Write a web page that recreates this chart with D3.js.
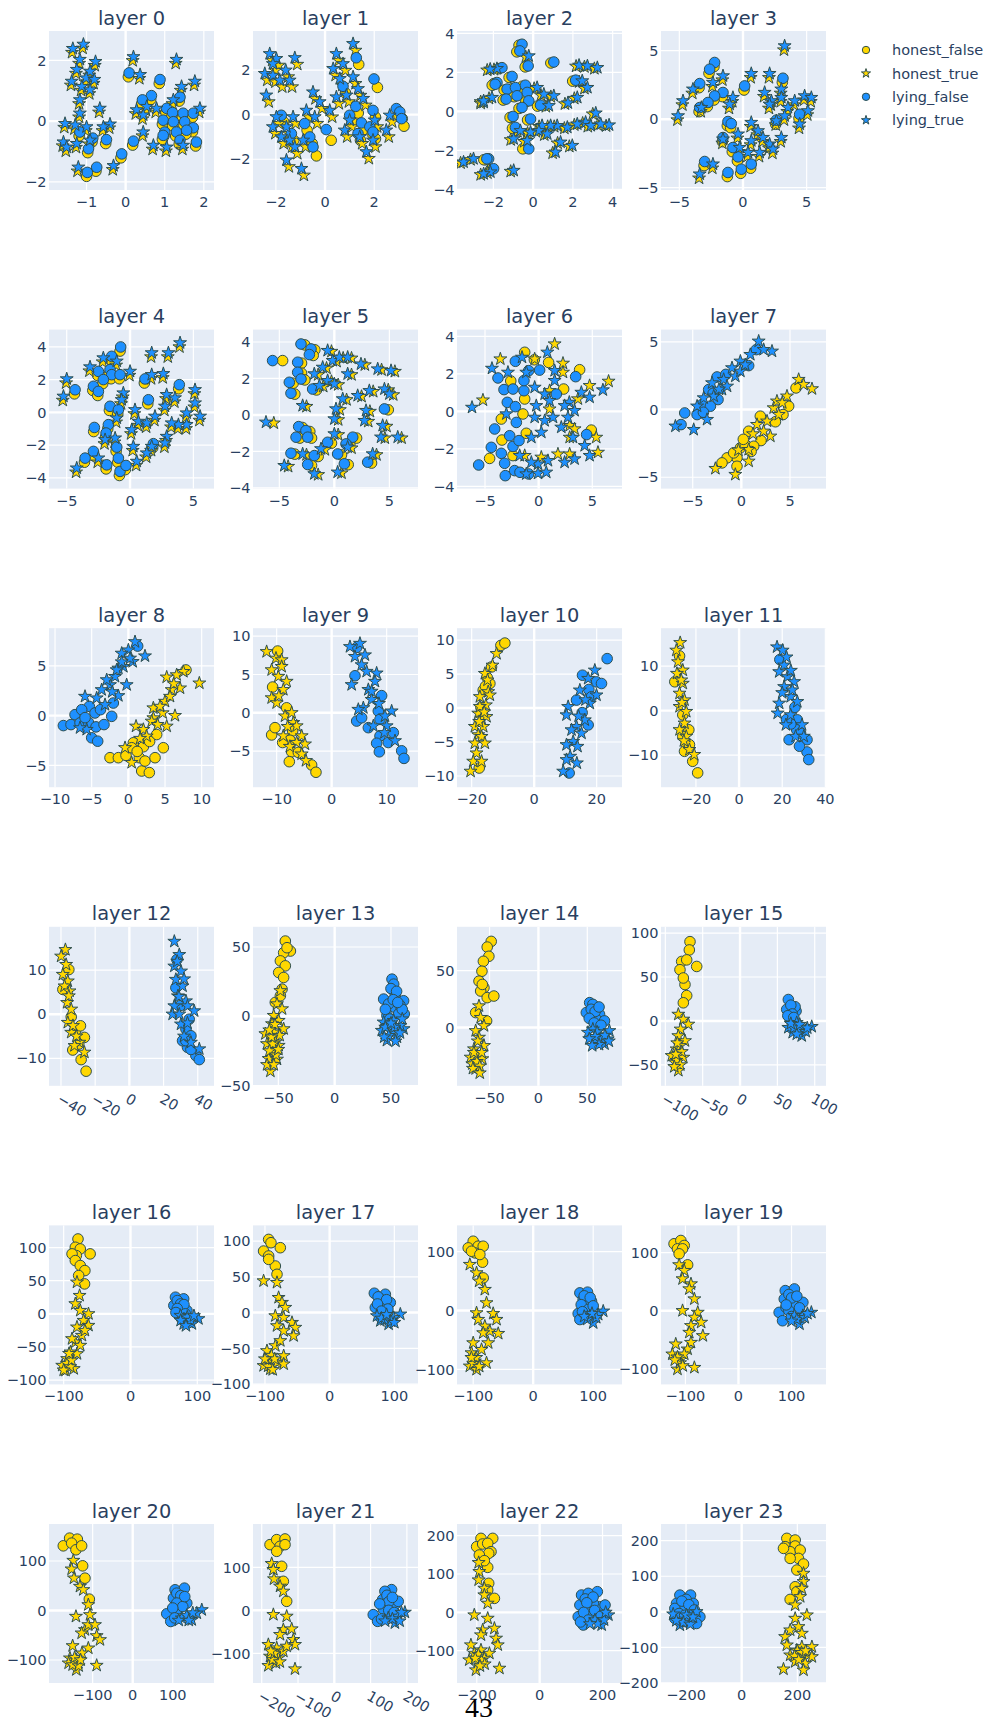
<!DOCTYPE html>
<html>
<head>
<meta charset="utf-8">
<script src="https://cdn.jsdelivr.net/npm/d3@7"></script>
<style>
  body { margin: 0; background: #fff; }
  svg text.sans { font-family: "DejaVu Sans", sans-serif; }
</style>
</head>
<body>
<svg id="chart" width="989" height="1717"></svg>
<script>
// ---- 2-D projections of activations, one panel per layer ----
// hf = honest_false, ht = honest_true, lf = lying_false, lt = lying_true

const hf0 = [[0.07,1.46],[0.86,1.24],[0.64,0.71],[0.41,0.57],[1.37,0.66],[1.03,0.29],[1.18,0.15],[1.45,0.13],[1.71,0.13],[0.94,-0.10],[1.20,-0.15],[1.49,-0.15],[1.71,-0.35],[0.98,-0.49],[1.28,-0.49],[1.54,-0.43],[0.94,-0.60],[1.37,-0.76],[1.79,-0.82],[0.18,-0.79],[-0.12,-1.21],[-0.86,-0.69],[-0.97,-1.04],[-0.51,-0.74],[-0.76,-1.65],[-1.00,-1.82],[-1.19,-0.49]];
const ht0 = [[-1.37,2.26],[-1.10,2.40],[-1.19,1.90],[-0.79,1.83],[-1.27,1.57],[-0.93,1.51],[-1.03,1.29],[-0.82,1.24],[-1.40,1.18],[-1.14,1.01],[-0.93,0.90],[-1.19,0.57],[-0.68,0.29],[-1.19,0.13],[-1.57,-0.21],[-1.31,-0.26],[-1.02,-0.32],[-0.42,-0.23],[-0.59,-0.32],[-1.61,-0.82],[-1.27,-0.87],[-0.93,-0.76],[-1.53,-0.99],[-1.23,-1.65],[-0.33,-1.60],[0.18,1.99],[0.35,1.40],[1.28,1.90],[1.75,1.18],[1.41,1.01],[0.26,0.24],[0.52,0.35],[0.77,0.29],[0.43,-0.49],[0.69,-0.93],[1.03,-0.99],[1.45,-0.93],[1.88,0.29],[0.43,0.07],[1.20,0.57]];
const lf0 = [[0.09,1.59],[0.88,1.37],[0.66,0.84],[0.43,0.70],[1.39,0.79],[1.05,0.42],[1.20,0.28],[1.47,0.26],[1.73,0.26],[0.96,0.03],[1.22,-0.02],[1.51,-0.02],[1.73,-0.22],[1.00,-0.36],[1.30,-0.36],[1.56,-0.30],[0.96,-0.47],[1.39,-0.63],[1.81,-0.69],[0.20,-0.66],[-0.10,-1.08],[-0.84,-0.56],[-0.95,-0.91],[-0.49,-0.61],[-0.74,-1.52],[-0.98,-1.69],[-1.17,-0.36]];
const lt0 = [[-1.35,2.39],[-1.08,2.53],[-1.17,2.03],[-0.77,1.96],[-1.25,1.70],[-0.91,1.64],[-1.01,1.42],[-0.80,1.37],[-1.38,1.31],[-1.12,1.14],[-0.91,1.03],[-1.17,0.70],[-0.66,0.42],[-1.17,0.26],[-1.55,-0.08],[-1.29,-0.13],[-1.00,-0.19],[-0.40,-0.10],[-0.57,-0.19],[-1.59,-0.69],[-1.25,-0.74],[-0.91,-0.63],[-1.51,-0.86],[-1.21,-1.52],[-0.31,-1.47],[0.20,2.12],[0.37,1.53],[1.30,2.03],[1.77,1.31],[1.43,1.14],[0.28,0.37],[0.54,0.48],[0.79,0.42],[0.45,-0.36],[0.71,-0.80],[1.05,-0.86],[1.47,-0.80],[1.90,0.42],[0.45,0.20],[1.22,0.70]];

const hf1 = [[1.37,2.25],[2.13,1.22],[0.83,0.97],[1.35,0.07],[2.05,-0.11],[3.00,-0.03],[3.14,-0.18],[3.21,-0.52],[1.58,-0.67],[1.92,-0.85],[1.44,-1.15],[2.05,-1.08],[1.10,-0.33],[-0.73,-0.70],[-0.52,-1.30],[-0.35,-1.85],[0.25,-1.15],[-1.27,-1.15],[-1.68,-0.33]];
const ht1 = [[-2.15,2.43],[-1.88,2.21],[-2.02,1.98],[-1.13,2.25],[-1.50,1.69],[-2.35,1.54],[-2.02,1.46],[-1.74,1.24],[-2.29,0.57],[-1.34,1.24],[-0.39,0.71],[-0.12,0.27],[0.29,-0.11],[-0.32,-0.40],[-1.88,-0.40],[-2.02,-0.85],[-1.47,-0.85],[-1.68,-1.30],[-1.34,-1.45],[-0.79,-1.45],[-1.13,-1.75],[-1.47,-2.34],[-0.86,-2.72],[0.56,2.43],[0.43,1.76],[0.83,1.98],[1.24,2.88],[0.70,1.31],[1.24,1.39],[0.97,0.57],[1.44,0.86],[1.65,0.42],[1.10,-0.55],[1.51,-1.30],[2.05,-1.45],[1.78,-1.97],[2.73,-0.33],[2.59,-1.00],[0.56,0.49],[2.12,-0.55],[0.90,-1.00],[-1.20,-0.40],[-0.66,-0.11]];
const lf1 = [[1.27,2.55],[1.99,1.60],[0.73,1.27],[1.25,0.37],[1.95,0.19],[2.90,0.27],[3.04,0.12],[3.11,-0.18],[1.48,-0.37],[1.82,-0.55],[1.34,-0.85],[1.95,-0.78],[1.00,-0.03],[-0.83,-0.40],[-0.62,-1.00],[-0.49,-1.45],[0.05,-0.67],[-1.37,-0.85],[-1.78,-0.03]];
const lt1 = [[-2.25,2.73],[-1.98,2.51],[-2.12,2.28],[-1.23,2.55],[-1.60,1.99],[-2.45,1.84],[-2.12,1.76],[-1.84,1.54],[-2.39,0.87],[-1.44,1.54],[-0.49,1.01],[-0.22,0.57],[0.19,0.19],[-0.42,-0.10],[-1.98,-0.10],[-2.12,-0.55],[-1.57,-0.55],[-1.78,-1.00],[-1.44,-1.15],[-0.89,-1.15],[-1.23,-1.45],[-1.57,-2.04],[-0.96,-2.42],[0.46,2.73],[0.33,2.06],[0.73,2.28],[1.14,3.18],[0.60,1.61],[1.14,1.69],[0.87,0.87],[1.34,1.16],[1.55,0.72],[1.00,-0.25],[1.41,-1.00],[1.95,-1.15],[1.68,-1.67],[2.63,-0.03],[2.49,-0.70],[0.46,0.79],[2.02,-0.25],[0.80,-0.70],[-1.30,-0.10],[-0.76,0.19]];

const hf2 = [[-0.71,3.39],[-0.82,3.05],[-0.40,2.28],[0.89,2.48],[-1.72,2.19],[-1.21,1.74],[-1.97,1.43],[-1.46,1.09],[-1.04,1.17],[-0.54,1.29],[-0.45,0.92],[-1.51,0.58],[-0.96,0.75],[-0.37,0.49],[0.22,0.27],[-0.71,0.15],[-1.16,-0.31],[-0.28,-0.44],[-1.04,-0.87],[-0.52,-1.92],[-2.39,-2.48],[-2.14,-2.99],[1.99,1.55],[-2.48,-2.48],[-2.06,1.34]];
const ht2 = [[-1.97,2.14],[-0.37,2.79],[2.16,2.31],[2.58,2.28],[3.08,2.19],[2.32,1.51],[2.58,1.17],[2.07,0.66],[1.60,0.38],[0.89,0.75],[0.39,0.83],[0.05,1.17],[-2.22,0.66],[-2.64,0.41],[0.64,0.24],[3.00,-0.14],[2.49,-0.61],[3.67,-0.75],[3.25,-0.70],[2.75,-0.78],[2.07,-0.70],[1.57,-0.87],[1.06,-0.78],[0.73,-0.78],[0.30,-0.78],[0.14,-1.04],[0.56,-1.21],[-0.28,-1.12],[-0.79,-1.04],[-1.13,-1.46],[-0.45,-1.55],[0.98,-2.14],[1.82,-1.80],[1.23,-1.63],[-1.13,-3.08],[-2.30,-3.16],[-3.65,-2.65],[-3.15,-2.48],[-2.64,-3.25],[-2.31,2.11],[-2.64,0.49]];
const lf2 = [[-0.56,3.44],[-0.67,3.10],[-0.25,2.33],[1.04,2.53],[-1.57,2.24],[-1.06,1.79],[-1.82,1.48],[-1.31,1.14],[-0.89,1.22],[-0.39,1.34],[-0.30,0.97],[-1.36,0.63],[-0.81,0.80],[-0.22,0.54],[0.37,0.32],[-0.56,0.20],[-1.01,-0.26],[-0.13,-0.39],[-0.89,-0.82],[-0.22,-1.92],[-2.24,-2.43],[-1.99,-2.94],[2.14,1.60],[-2.33,-2.43],[-1.91,1.39]];
const lt2 = [[-1.82,2.19],[-0.22,2.84],[2.31,2.36],[2.73,2.33],[3.23,2.24],[2.47,1.56],[2.73,1.22],[2.22,0.71],[1.75,0.43],[1.04,0.80],[0.54,0.88],[0.20,1.22],[-2.07,0.71],[-2.49,0.46],[0.79,0.29],[3.15,-0.09],[2.64,-0.56],[3.82,-0.70],[3.40,-0.65],[2.90,-0.73],[2.22,-0.65],[1.72,-0.82],[1.21,-0.73],[0.88,-0.73],[0.45,-0.73],[0.29,-0.99],[0.71,-1.16],[-0.13,-1.07],[-0.64,-0.99],[-0.98,-1.41],[-0.30,-1.50],[1.13,-2.09],[1.97,-1.75],[1.38,-1.58],[-0.98,-3.03],[-2.15,-3.11],[-3.50,-2.60],[-3.00,-2.43],[-2.49,-3.20],[-2.16,2.16],[-2.49,0.54]];

const hf3 = [[-2.28,3.84],[-2.67,3.35],[-3.45,2.30],[-1.62,1.65],[-2.28,1.40],[-2.80,0.92],[-3.45,0.55],[0.08,2.13],[3.09,2.69],[-1.23,-0.47],[-0.97,-0.62],[-1.62,-1.64],[-0.84,-2.37],[-0.44,-3.05],[0.60,-3.58],[-0.18,-3.95],[-1.23,-4.19],[-3.06,-3.39],[2.57,-0.37],[4.40,0.06]];
const ht3 = [[3.22,5.05],[0.60,3.03],[2.04,3.03],[-1.62,2.86],[-2.41,2.38],[-3.98,1.89],[-4.76,1.04],[-5.15,-0.06],[-3.32,0.55],[-0.84,1.28],[-1.10,0.79],[1.65,1.65],[2.96,1.89],[2.18,1.04],[2.96,1.28],[4.01,1.04],[4.79,1.40],[5.32,1.28],[5.05,0.31],[4.40,-0.66],[3.48,0.55],[2.57,-0.42],[3.22,-0.06],[2.04,0.79],[2.96,-1.64],[0.60,-0.54],[1.13,-1.15],[0.60,-1.88],[1.52,-1.64],[2.04,-2.12],[1.26,-2.73],[0.34,-2.73],[-0.31,-2.37],[-0.44,-1.39],[-2.41,-3.58],[-3.45,-4.31],[-1.62,-1.76],[2.31,-2.49]];
const lf3 = [[-2.23,4.14],[-2.62,3.65],[-3.40,2.60],[-1.57,1.95],[-2.23,1.70],[-2.75,1.22],[-3.40,0.85],[0.13,2.43],[3.14,2.99],[-1.18,-0.17],[-0.92,-0.32],[-1.57,-1.34],[-0.79,-2.07],[-0.39,-2.75],[0.65,-3.28],[-0.13,-3.65],[-1.18,-3.89],[-3.01,-3.09],[2.62,-0.07],[4.45,0.36]];
const lt3 = [[3.27,5.35],[0.65,3.33],[2.09,3.33],[-1.57,3.16],[-2.36,2.68],[-3.93,2.19],[-4.71,1.34],[-5.10,0.24],[-3.27,0.85],[-0.79,1.58],[-1.05,1.09],[1.70,1.95],[3.01,2.19],[2.23,1.34],[3.01,1.58],[4.06,1.34],[4.84,1.70],[5.37,1.58],[5.10,0.61],[4.45,-0.36],[3.53,0.85],[2.62,-0.12],[3.27,0.24],[2.09,1.09],[3.01,-1.34],[0.65,-0.24],[1.18,-0.85],[0.65,-1.58],[1.57,-1.34],[2.09,-1.82],[1.31,-2.43],[0.39,-2.43],[-0.26,-2.07],[-0.39,-1.09],[-2.36,-3.28],[-3.40,-4.01],[-1.57,-1.46],[2.36,-2.19]];

const hf4 = [[-0.79,3.74],[-1.50,3.17],[-1.63,2.36],[-2.55,2.25],[-1.50,2.05],[-2.16,1.75],[-2.94,1.34],[-2.55,1.03],[-0.84,2.05],[-4.39,1.13],[1.13,1.79],[1.40,0.52],[3.84,1.44],[-1.63,0.12],[-0.97,-0.09],[-2.87,-1.17],[-1.76,-1.00],[-1.94,-1.51],[-1.10,-2.37],[-0.97,-3.04],[-2.94,-2.63],[-3.60,-3.04],[-1.89,-3.45],[-0.84,-3.85],[-0.37,-3.49],[1.79,-2.16]];
const ht4 = [[3.90,3.99],[1.66,3.38],[2.98,3.38],[-3.21,2.52],[-2.16,3.07],[-1.10,2.87],[-0.05,2.25],[1.66,2.05],[2.58,2.11],[-5.05,1.79],[-5.31,0.73],[-0.58,0.93],[-0.71,0.52],[0.34,-0.09],[-1.10,-0.60],[0.61,-0.80],[0.08,-1.31],[1.27,-0.90],[1.92,-0.49],[2.71,0.12],[2.84,0.83],[3.50,0.63],[5.08,1.13],[5.08,0.32],[4.42,-0.29],[5.48,-0.49],[4.42,-1.00],[3.77,-1.00],[3.24,-0.90],[2.84,-1.72],[2.71,-2.12],[1.66,-2.33],[1.27,-2.73],[0.48,-3.24],[0.21,-2.33],[-1.23,-1.82],[-2.02,-1.92],[-4.26,-3.65],[-2.55,-3.04]];
const lf4 = [[-0.74,3.99],[-1.45,3.42],[-1.58,2.61],[-2.50,2.50],[-1.45,2.30],[-2.11,2.00],[-2.89,1.59],[-2.50,1.28],[-0.79,2.30],[-4.34,1.38],[1.18,2.04],[1.45,0.77],[3.89,1.69],[-1.58,0.37],[-0.92,0.16],[-2.82,-0.92],[-1.71,-0.75],[-1.89,-1.26],[-1.05,-2.12],[-0.92,-2.79],[-2.89,-2.38],[-3.55,-2.79],[-1.84,-3.20],[-0.79,-3.60],[-0.32,-3.24],[1.84,-1.91]];
const lt4 = [[3.95,4.24],[1.71,3.63],[3.03,3.63],[-3.16,2.77],[-2.11,3.32],[-1.05,3.12],[0,2.50],[1.71,2.30],[2.63,2.36],[-5.00,2.04],[-5.26,0.98],[-0.53,1.18],[-0.66,0.77],[0.39,0.16],[-1.05,-0.35],[0.66,-0.55],[0.13,-1.06],[1.32,-0.65],[1.97,-0.24],[2.76,0.37],[2.89,1.08],[3.55,0.88],[5.13,1.38],[5.13,0.57],[4.47,-0.04],[5.53,-0.24],[4.47,-0.75],[3.82,-0.75],[3.29,-0.65],[2.89,-1.47],[2.76,-1.87],[1.71,-2.08],[1.32,-2.48],[0.53,-2.99],[0.26,-2.08],[-1.18,-1.57],[-1.97,-1.67],[-4.21,-3.40],[-2.50,-2.79]];

const hf5 = [[-2.68,3.84],[-1.77,3.57],[-1.92,3.26],[-4.70,2.98],[-2.98,2.84],[-2.98,2.29],[-3.74,1.74],[-3.59,1.14],[-2.68,1.92],[-1.62,1.37],[4.90,0.28],[-2.89,-0.69],[-2.23,-0.91],[-3.13,-1.27],[-2.07,-1.27],[-3.59,-2.15],[-1.47,-2.28],[-2.07,-2.77],[-0.26,-1.55],[1.26,-2.73],[2.02,-1.27],[3.38,-2.64],[1.41,-1.64],[0.65,-2.19]];
const ht5 = [[-0.26,3.48],[0.20,2.93],[0.80,3.11],[1.56,3.11],[2.77,2.74],[4.29,2.47],[5.50,2.38],[-0.71,2.56],[-1.47,2.20],[-0.26,1.83],[-1.01,1.56],[0.35,1.65],[1.56,2.20],[3.53,1.28],[2.47,1.01],[4.90,1.37],[5.35,1.10],[1.11,0.83],[0.50,0.28],[0.35,-0.27],[3.23,0.19],[3.08,-0.36],[4.74,-0.63],[4.59,-1.27],[6.11,-1.27],[-5.50,-0.45],[-4.20,-2.83],[-1.47,-3.28],[0.65,-3.19],[3.83,-2.19],[-2.53,0.46],[-0.86,-1.91],[0.35,-1.09],[1.56,-1.82],[-2.53,-2.19]];
const lf5 = [[-3.03,3.89],[-2.12,3.62],[-2.27,3.31],[-5.61,2.98],[-3.33,2.89],[-3.33,2.34],[-4.09,1.79],[-3.94,1.19],[-3.03,1.97],[-1.97,1.42],[4.55,0.33],[-3.24,-0.64],[-2.58,-0.86],[-3.48,-1.22],[-2.42,-1.22],[-3.94,-2.10],[-1.82,-2.23],[-2.42,-2.72],[-0.61,-1.50],[0.91,-2.68],[1.67,-1.22],[3.03,-2.59],[1.06,-1.59],[0.30,-2.14]];
const lt5 = [[-0.61,3.53],[-0.15,2.98],[0.45,3.16],[1.21,3.16],[2.42,2.79],[3.94,2.52],[5.15,2.43],[-1.06,2.61],[-1.82,2.25],[-0.61,1.88],[-1.36,1.61],[0,1.70],[1.21,2.25],[3.18,1.33],[2.12,1.06],[4.55,1.42],[5.00,1.15],[0.76,0.88],[0.15,0.33],[0,-0.22],[2.88,0.24],[2.73,-0.31],[4.39,-0.58],[4.24,-1.22],[5.76,-1.22],[-6.21,-0.40],[-4.55,-2.78],[-1.82,-3.23],[0.30,-3.14],[3.48,-2.14],[-2.88,0.51],[-1.21,-1.86],[0,-1.04],[1.21,-1.77],[-2.88,-2.14]];

const hf6 = [[-1.30,3.15],[3.82,2.22],[-1.30,0.66],[-3.48,-0.41],[-1.46,-0.14],[-3.42,-1.53],[-4.57,-2.51],[-1.15,-1.17],[0.93,2.61],[2.33,1.19],[4.91,-1.00],[-2.39,-2.36],[-2.60,1.62],[-0.40,2.75]];
const ht6 = [[-5.19,0.60],[-3.57,2.79],[1.49,3.59],[2.27,2.56],[2.27,2.08],[-0.37,2.79],[1.02,0.12],[2.89,-0.76],[4.75,1.37],[6.52,1.60],[5.37,-1.39],[5.53,-2.19],[1.80,-2.28],[2.89,-2.28],[0.25,-2.45],[-1.30,-2.36],[3.66,0.66],[3.35,-0.94],[2.89,-1.39],[1.02,1.10]];
const lf6 = [[-3.79,1.78],[-2.17,2.67],[-3.23,1.16],[-2.39,1.19],[-2.92,0.48],[-2.17,0.25],[-1.37,1.10],[-1.37,1.64],[-0.93,2.17],[0.09,2.20],[-4.10,-0.94],[-2.08,-0.59],[-2.70,-1.30],[-4.41,-1.92],[-3.48,-2.24],[-2.39,-1.87],[-1.83,-1.56],[-3.17,-2.77],[-5.59,-2.86],[-3.11,-3.43],[-2.24,-3.16],[-1.74,-3.25],[-0.93,-3.34],[3.45,1.85],[4.47,-1.24],[1.65,0.92]];
const lt6 = [[-6.21,0.21],[-4.35,2.29],[-2.86,2.08],[-1.55,2.88],[0.81,3.15],[-1.15,2.08],[-0.37,1.28],[0.56,0.92],[-0.22,0.30],[1.02,0.57],[-0.37,-0.32],[0.56,-0.50],[1.34,-0.32],[2.11,-0.85],[2.73,-0.32],[3.35,0.04],[2.86,0.48],[3.98,1.01],[4.75,0.75],[5.99,1.14],[2.42,0.30],[3.20,-1.39],[4.29,-1.83],[4.75,-2.36],[3.35,-2.54],[2.42,-2.72],[0.87,-2.63],[-0.06,-2.81],[-0.68,-2.72],[-1.15,-3.34],[-0.06,-3.31],[0.71,-3.25],[1.49,2.17],[1.49,1.64],[-3.01,-0.14],[-1.77,-2.36],[-0.68,-1.39],[0.25,-1.12]];

const hf7 = [[5.62,1.60],[4.86,0.25],[4.28,-0.37],[1.95,-0.49],[0.75,-1.60],[2.02,-2.29],[-0.10,-2.83],[0.41,-2.59],[1.27,-2.71],[-0.45,-3.57],[-1.47,-3.57],[-1.99,-3.94],[-0.45,-4.19],[-0.79,-3.20],[0.2,-2.2],[1.0,-3.1],[3.5,-0.9]];
const ht7 = [[5.89,2.22],[7.26,1.53],[6.40,1.85],[4.69,0.99],[3.32,0.12],[3.66,0.62],[2.64,-0.86],[2.98,-1.97],[1.61,-1.11],[0.75,-2.96],[0.75,-3.82],[-0.62,-4.80],[-2.67,-4.36],[3.84,-0.37],[2.29,-1.60],[4.2,0.5],[1.2,-1.8],[-0.3,-3.0]];
const lf7 = [[-5.82,-0.25],[-6.20,-1.11],[-4.55,-0.37],[-4.04,0.37],[-3.36,1.48],[-2.50,2.41],[-2.40,0.74],[-3.18,0.25],[0.75,3.25],[1.54,4.43],[-3.9,-0.2],[-2.9,1.2],[-1.6,2.6]];
const lt7 = [[-6.78,-1.23],[-4.90,-1.48],[-3.53,-0.74],[-4.55,0.25],[-2.84,0.99],[-1.99,1.48],[-1.82,2.22],[-0.96,3.08],[-0.10,3.57],[0.92,4.06],[1.78,5.05],[3.15,4.31],[2.29,4.43],[-0.62,2.46],[-1.47,1.72],[-3.01,1.97],[-3.87,0.86],[-0.10,2.83],[0.4,3.3],[-2.3,1.5]];

const hf8 = [[7.86,4.6],[-2.5,-4.23],[-1.36,-4.23],[-0.32,-4.0],[0.68,-2.73],[1.5,-4.23],[1.82,-5.57],[2.86,-5.73],[2.27,-4.57],[3.64,-4.23],[4.77,-3.23],[2.05,-3.13],[0.45,-3.23],[3.86,-1.9],[1.2,-3.6],[2.9,-2.6]];
const ht8 = [[9.68,3.27],[7.50,4.43],[6.59,4.1],[5.23,3.87],[7.05,2.77],[5.91,2.6],[5.0,1.43],[6.36,0],[4.68,0.27],[3.41,-0.23],[3.18,-0.57],[5.23,-1.07],[1.05,-1.07],[2.05,-1.4],[2.5,-2.07],[-0.45,-3.23],[0.45,-4.73],[3.41,0.77],[4.32,0.93],[5.68,1.93],[6.2,3.2],[4.0,-0.9],[1.6,-2.3]];
const lf8 = [[1.27,7.0],[-8.86,-1.0],[-7.82,-0.9],[-7.27,0.1],[-6.59,-0.73],[-5.45,-0.67],[-5.32,0.93],[-4.55,0.27],[-4.41,-1.13],[-3.32,-0.9],[-2.27,-0.07],[-5.0,-2.23],[-4.18,-2.57],[-6.36,0.6],[-2.05,1.27],[-3.8,0.6],[-5.9,-0.2]];
const lt8 = [[0.91,7.43],[0,6.6],[-0.91,6.27],[0.59,5.43],[2.27,6.0],[-0.23,3.1],[-1.36,2.0],[-1.82,3.93],[-2.5,3.1],[-3.64,2.6],[-4.32,1.77],[-5.91,1.93],[-0.68,4.93],[-1.36,4.77],[-3.18,1.1],[-2.95,3.6],[-5.68,-1.4],[-6.59,-1.23],[-1.59,4.6],[0.23,5.77],[-2.2,2.4],[-0.9,5.4]];

const hf9 = [[-9.82,8.06],[-10.73,3.36],[-8.18,0.65],[-10.91,-2.89],[-10.30,-1.94],[-7.09,-2.37],[-7.58,-3.58],[-7.27,-5.09],[-7.70,-6.38],[-3.64,-6.81],[-2.85,-7.76],[-6.06,-5.17],[-8.91,-3.88]];
const ht9 = [[-11.82,7.97],[-10.12,7.11],[-10.91,5.60],[-9.09,6.90],[-9.70,4.74],[-8.18,4.09],[-8.79,3.02],[-10.91,1.94],[-10.0,1.29],[-8.48,-0.43],[-7.27,0],[-6.97,-1.29],[-5.45,-3.02],[-4.85,-4.09],[-5.45,-5.39],[-4.67,-6.25],[-8.79,-3.02],[-6.36,-3.88],[-9.09,6.03],[-6.36,-1.72],[-9.6,2.2],[-8.0,-1.8],[-7.6,-4.4]];
const lf9 = [[4.55,8.53],[4.24,4.83],[9.09,2.24],[4.55,-1.08],[5.45,-0.65],[8.48,0.22],[8.79,-0.86],[8.79,-3.02],[10.30,-3.88],[8.18,-3.97],[8.67,-5.09],[12.73,-4.96],[13.15,-5.95],[11.21,-2.59],[6.67,-1.94]];
const lt9 = [[3.33,8.62],[5.15,9.05],[4.24,7.33],[6.06,7.54],[5.45,6.25],[3.64,3.66],[8.18,5.17],[7.88,4.09],[6.67,3.02],[7.27,1.72],[5.76,0.65],[4.85,0.43],[10.91,0.22],[9.70,-0.43],[6.36,5.39],[7.58,-1.72],[10.0,-1.72],[11.52,-3.66],[7.27,2.80],[8.6,1.2],[9.6,-2.6]];

const hf10 = [[-10.66,9.22],[-9.38,9.56],[-15.03,4.49],[-17.06,0.10],[-17.59,-8.83],[-13.65,6.05],[-16.31,2.63],[-14.18,3.61],[-15.6,3.2]];
const ht10 = [[-12.05,8.0],[-13.33,6.29],[-15.78,5.07],[-14.71,2.39],[-17.38,1.66],[-14.18,1.90],[-15.46,0.44],[-17.91,-0.78],[-16.84,-1.51],[-15.25,-1.27],[-18.98,-2.73],[-16.31,-2.73],[-17.91,-3.95],[-16.84,-4.20],[-18.98,-5.17],[-15.78,-5.17],[-18.44,-6.63],[-19.51,-7.85],[-16.84,-7.85],[-20.36,-9.32],[-14.93,4.10],[-17.38,0.20],[-16.0,-0.6],[-17.6,-2.0]];
const lf10 = [[23.35,7.27],[15.46,4.83],[17.48,2.73],[19.94,3.85],[21.54,3.61],[15.35,-0.68],[17.27,-2.49],[11.19,-9.56],[18.34,1.66],[13.54,1.17]];
const lt10 = [[19.40,5.56],[17.27,4.34],[17.80,0.68],[14.61,2.63],[10.87,0.20],[10.34,-1.02],[13.54,-2.73],[16.20,-1.76],[15.14,-3.71],[12.47,-4.93],[13.86,-5.66],[10.34,-5.41],[11.51,-7.12],[13.65,-8.10],[9.28,-9.32],[10.34,-7.61],[19.94,1.90],[11.94,-3.22],[16.4,1.2],[14.2,-1.2]];

const hf11 = [[-27.6,12.27],[-29.8,6.47],[-26.1,-0.97],[-23.3,-4.31],[-26.1,-5.80],[-24.5,-7.43],[-25.3,-9.14],[-21.5,-11.38],[-19.2,-13.98],[-23.0,-7.66]];
const ht11 = [[-27.3,15.24],[-29.1,13.53],[-28.3,10.93],[-26.1,9.07],[-28.8,8.33],[-26.1,6.10],[-27.6,3.87],[-25.3,2.38],[-27.6,0.89],[-25.3,-2.83],[-27.6,-4.31],[-24.5,-5.80],[-23.0,-8.77],[-20.8,-9.89],[-26.8,6.84],[-24.5,-0.22],[-26.5,1.8],[-25.6,-6.8]];
const lf11 = [[18.9,11.45],[25.9,0.74],[27.0,-2.08],[26.7,-4.31],[23.2,-6.54],[31.5,-6.54],[31.5,-9.29],[32.3,-11.0],[28.5,-5.06],[24.0,-3.0],[28.0,-8.0],[22.0,-2.0]];
const lt11 = [[17.6,14.28],[20.2,13.53],[20.9,10.19],[18.6,8.70],[22.4,7.58],[25.5,6.47],[20.9,5.35],[23.9,3.12],[18.6,1.64],[17.9,-0.59],[21.7,-3.20],[23.9,-0.97],[29.2,-3.20],[26.2,-5.80],[30.0,-5.80],[24.7,4.61],[22.0,12.0],[24.0,9.0],[27.0,2.0],[20.0,4.0]];

const hf12 = [[-35.4,10.15],[-38.9,5.64],[-34.0,-0.60],[-31.5,-3.76],[-28.6,-2.63],[-26.3,-5.26],[-33.1,-8.12],[-28.2,-10.30],[-25.3,-12.93],[-29.6,-6.77]];
const ht12 = [[-37.4,14.66],[-39.9,13.16],[-37.0,11.28],[-38.9,9.02],[-36.0,7.52],[-37.9,6.39],[-35.0,5.26],[-36.4,2.63],[-34.0,1.13],[-36.0,-1.88],[-34.0,-4.14],[-29.2,-6.39],[-32.1,-7.14],[-26.3,-8.65],[-35.4,4.14],[-33.0,-2.6],[-31.0,-5.0]];
const lf12 = [[27.8,12.41],[27.2,6.02],[35.0,-1.13],[33.1,-3.38],[36.0,-4.89],[34.0,-7.52],[38.9,-9.40],[40.9,-10.30],[31.1,-6.02],[30.0,2.0],[33.0,-6.0],[36.0,-8.0]];
const lt12 = [[26.3,16.54],[29.2,13.53],[26.3,10.90],[30.2,9.77],[27.2,7.89],[31.1,6.39],[28.4,4.14],[33.1,3.01],[26.3,1.88],[34.0,1.88],[25.3,0],[37.9,0.75],[30.2,-2.26],[29.2,0],[40.9,-7.89],[36.0,-6.39],[28.0,12.0],[32.0,8.0],[29.0,4.0],[34.0,-2.0],[32.0,-5.0]];

const hf13 = [[-43.8,54.3],[-39.3,47.1],[-45.3,45.9],[-48.2,40.0],[-43.8,36.4],[-49.7,31.6],[-45.3,28.0],[-46.7,19.6],[-52.7,10.0],[-48.2,14.8],[-42.3,49.5]];
const ht13 = [[-48.2,18.4],[-51.2,8.9],[-46.7,5.3],[-54.1,0.5],[-49.7,-3.1],[-55.6,-5.5],[-45.3,-9.1],[-54.1,-11.5],[-60.1,-19.9],[-49.7,-21.1],[-55.6,-25.8],[-58.6,-30.6],[-51.2,-31.1],[-57.1,-39.7],[-52.7,-18.7],[-61.5,-12.7],[-48.8,-13.9],[-55,-20],[-58,-25],[-52,-28],[-60,-35],[-54,-35],[-50,-24],[-56,-15],[-53,-6],[-58,-10]];
const lf13 = [[50.9,26.8],[52.4,23.2],[43.5,12.4],[53.8,16.0],[61.2,11.2],[53.3,6.5],[61.8,1.7],[47.9,8.9],[56.8,1.7],[46.4,0.5],[50,20],[55,18],[58,8],[45,5],[52,12],[60,5],[49,-2],[56,10]];
const lt13 = [[43.5,-4.3],[52.4,-3.1],[61.2,-9.1],[41.9,-10.3],[50.9,-11.5],[46.4,-17.5],[55.3,-15.1],[58.3,-6.7],[47.9,-6.7],[45,-8],[53,-8],[58,-12],[48,-14],[60,-2],[54,-18],[44,-15],[50,-5]];

const hf14 = [[-48.3,75.6],[-52.4,70.6],[-50.7,62.5],[-56.3,58.1],[-57.8,49.4],[-60.8,40.7],[-55.7,34.9],[-59.1,32.0],[-52.4,26.2],[-45.6,27.6],[-64.2,13.1],[-53.0,5.8],[-57.4,37.8]];
const ht14 = [[-60.8,18.9],[-59.1,8.7],[-55.7,1.5],[-64.2,-2.9],[-60.8,-8.7],[-65.9,-18.9],[-55.7,-16.0],[-62.5,-24.7],[-67.6,-32.0],[-57.4,-27.6],[-64.2,-36.3],[-69.3,-26.2],[-63,-30],[-60,-34],[-66,-22],[-58,-22],[-62,-12],[-67,-36],[-60,-40]];
const lf14 = [[52.4,21.8],[55.7,20.3],[49.0,13.1],[62.5,11.6],[59.1,7.3],[67.6,5.8],[54,16],[58,14],[62,18],[52,8],[57,4],[64,2]];
const lt14 = [[55.7,-1.5],[62.5,-7.3],[70.9,-10.2],[57.4,-13.1],[67.6,-14.5],[50.7,-4.4],[72.6,-2.9],[60,-4],[65,-10],[58,-8],[52,-10],[62,-15],[68,-7],[55,-16],[72,-12]];

const hf15 = [[-67.0,90.2],[-67.9,80.8],[-78.1,67.7],[-71.4,69.5],[-80.4,58.3],[-58.0,62.0],[-73.7,41.4],[-71.4,28.9],[-75.9,20.7],[-75.9,48.9]];
const ht15 = [[-82.6,7.5],[-75.9,1.9],[-69.2,-3.8],[-79.5,-9.4],[-82.6,-16.9],[-73.7,-22.6],[-84.8,-32.0],[-80.4,-28.2],[-87.1,-47.0],[-75.9,-41.4],[-91.5,-39.5],[-82.6,-56.4],[-85,-45],[-80,-50],[-88,-52],[-78,-35],[-84,-25],[-86,-38]];
const lf15 = [[64.7,24.4],[62.5,13.2],[75.0,11.3],[73.7,16.2],[67.0,1.9],[68,18],[70,8],[64,6],[72,4]];
const lt15 = [[75.9,-1.9],[96.0,-6.4],[84.8,-9.4],[70.5,-13.2],[82.6,-16.9],[64.7,-7.5],[78,-10],[72,-8],[88,-12],[76,-15],[68,-3],[80,-4],[90,-8]];

const hf16 = [[-78.6,113],[-82.6,100.5],[-75.2,98.0],[-81.1,87.9],[-87.5,90.5],[-60.4,90.5],[-82.6,80.4],[-75.2,72.9],[-68.3,65.3],[-77.6,57.8],[-68.8,45.2]];
const ht16 = [[-80.1,47.7],[-76.2,27.6],[-82.6,15.1],[-75.2,5.0],[-62.9,0],[-70.3,-10.1],[-62.9,-17.6],[-80.1,-20.1],[-72.7,-32.7],[-82.6,-42.7],[-87.5,-37.7],[-89.9,-57.8],[-80.1,-60.3],[-94.8,-67.8],[-102.2,-77.9],[-85.0,-82.9],[-97.3,-85.4],[-75.2,-47.7],[-68.3,-25.1],[-95,-75],[-90,-80],[-100,-85],[-88,-70],[-92,-60]];
const lf16 = [[67.3,25.1],[79.6,22.6],[64.9,12.6],[77.1,10.1],[72.2,17.6],[84.5,5.0],[70,20],[75,15],[80,14],[70,8],[82,0],[68,2]];
const lt16 = [[74.7,-2.5],[101.7,-7.5],[87.0,-12.6],[79.6,-15.1],[91.9,-15.1],[80,-8],[85,-5],[90,-10],[75,-10],[95,-3],[83,-18]];

const hf17 = [[-94.3,102.3],[-90.7,97.7],[-102.1,86.0],[-94.3,79.1],[-76.3,90.7],[-84.0,65.1],[-81.4,53.5],[-94.3,74.4]];
const ht17 = [[-102.1,44.2],[-81.4,41.9],[-78.9,20.9],[-73.7,14.0],[-68.6,7.0],[-84.0,-4.7],[-71.1,-7.0],[-58.2,-14.0],[-81.4,-18.6],[-53.1,-20.9],[-71.1,-25.6],[-55.7,-32.6],[-96.9,-53.5],[-84.0,-46.5],[-71.1,-60.5],[-94.3,-67.4],[-81.4,-69.8],[-71.1,-72.1],[-91.8,-79.1],[-102.1,-74.4],[-76.3,-39.5],[-90,-60],[-95,-75],[-85,-65],[-100,-65],[-88,-80]];
const lf17 = [[69.1,27.0],[86.1,25.6],[70.6,7.0],[83.5,11.6],[93.8,14.0],[78.4,18.6],[75,22],[80,10],[88,18],[74,12],[90,5],[80,2]];
const lt17 = [[78.4,-11.6],[91.2,-16.3],[109.3,-2.3],[99.0,-7.0],[73.2,-4.7],[85,-10],[95,-12],[80,-8],[100,-14],[88,-3]];

const hf18 = [[-100,117.8],[-108.3,106.5],[-91.7,109.3],[-97.2,98.0],[-83.3,109.3],[-84.4,82.2],[-83.3,55.5],[-102.8,100.8],[-88.9,95.2]];
const ht18 = [[-105.6,78.2],[-94.4,64.0],[-90.0,49.9],[-80.6,35.7],[-77.8,13.0],[-94.4,-4.0],[-91.7,-15.3],[-66.7,-5.1],[-61.1,-15.3],[-80.6,-26.6],[-72.2,-35.1],[-58.3,-39.1],[-83.3,-38.0],[-100,-55.0],[-75.0,-55.0],[-102.8,-72.0],[-86.1,-66.3],[-77.8,-89.0],[-97.2,-86.1],[-105.6,-94.6],[-94.4,-100.3],[-95,-80],[-100,-90],[-90,-95],[-103,-80]];
const lf18 = [[77.8,30.0],[90.6,31.2],[83.3,18.7],[97.2,15.9],[88.9,8.5],[75.0,-5.1],[77.8,-15.3],[85,25],[95,22],[80,10],[92,2],[100,8],[82,-2]];
const lt18 = [[94.4,-9.6],[116.7,-1.1],[100,-21.0],[108.3,-6.8],[90,-15],[105,-12],[98,-5],[85,-10]];

const hf19 = [[-121.4,115.3],[-108.6,121.0],[-115.0,106.6],[-102.2,112.4],[-105.4,106.6],[-95.8,79.0],[-111.8,98.0]];
const ht19 = [[-111.8,79.0],[-102.2,69.2],[-105.4,54.8],[-89.5,46.1],[-92.7,37.5],[-83.1,20.2],[-105.4,0],[-76.7,-2.9],[-83.1,-11.5],[-70.3,-20.2],[-89.5,-25.9],[-67.1,-43.2],[-92.7,-37.5],[-118.2,-57.6],[-89.5,-54.8],[-95.8,-66.3],[-124.6,-74.9],[-108.6,-83.6],[-115.0,-100.9],[-83.1,-98.0],[-102.2,-74.9],[-110,-90],[-115,-80],[-105,-95],[-120,-85]];
const lf19 = [[88.2,34.6],[105.4,37.5],[86.3,20.2],[105.4,11.5],[76.7,-2.9],[89.5,5.8],[83.1,-17.3],[121.4,14.4],[95,28],[100,22],[110,25],[95,0],[115,5],[100,-10],[90,10]];
const lt19 = [[115.0,-23.1],[137.4,-2.9],[121.4,-8.6],[105.4,-8.6],[110,-15],[125,-12],[130,-5],[100,-18]];

const hf20 = [[-173.3,130.6],[-157.5,146.1],[-138.3,144.1],[-152.5,136.0],[-141.7,122.6],[-127.5,130.6],[-125.0,90.2],[-119.2,65.3],[-108.3,22.9]];
const ht20 = [[-148.3,101.0],[-152.5,83.5],[-146.7,65.3],[-131.7,48.5],[-123.3,41.8],[-110.8,11.4],[-141.7,-12.1],[-106.7,-8.8],[-119.2,-39.1],[-110.8,-29.0],[-94.2,-29.0],[-127.5,-45.8],[-90.0,-51.2],[-81.7,-59.3],[-150.0,-71.4],[-110.8,-76.1],[-156.7,-96.3],[-126.7,-86.2],[-143.3,-105.1],[-160.0,-106.4],[-90.0,-111.1],[-140.8,-119.9],[-140,-100],[-150,-110],[-135,-112],[-145,-95],[-130,-100]];
const lf20 = [[105.8,41.8],[129.2,45.1],[101.7,24.9],[135.0,14.8],[114.2,3.4],[85.0,-6.7],[95.0,-22.2],[122.5,21.5],[110,35],[120,30],[110,15],[125,8],[100,5],[130,28],[105,-15]];
const lt20 = [[172.5,1.3],[147.5,-18.9],[122.5,-15.5],[160.0,-5.4],[135,-10],[150,-5],[140,-20],[115,-20]];

const hf21 = [[-177.1,152.7],[-158.7,164.3],[-135.8,165.9],[-149.5,148.8],[-135.8,152.7],[-158.7,137.2],[-145.0,102.3],[-140.4,67.4],[-131.2,20.9]];
const ht21 = [[-172.5,108.5],[-167.9,94.6],[-166.1,72.9],[-149.5,55.8],[-140.4,44.2],[-167.9,-10.1],[-131.2,-14.0],[-140.4,-45.0],[-117.4,-43.4],[-149.5,-56.6],[-112.8,-68.2],[-108.3,-79.8],[-181.7,-79.8],[-158.7,-87.6],[-140.4,-95.3],[-177.1,-107.0],[-160.6,-122.5],[-181.7,-128.7],[-108.3,-136.4],[-154.1,-110.9],[-131.2,-83.7],[-170,-115],[-165,-100],[-150,-120],[-175,-95]];
const lf21 = [[133.0,24.8],[157.8,48.1],[139.4,44.2],[167.0,13.2],[134.9,3.1],[107.3,-10.1],[119.3,-25.6],[176.1,20.9],[145,35],[150,20],[160,30],[125,15],[150,0],[165,-5],[130,-20]];
const lt21 = [[194.5,-4.7],[167.0,-29.5],[148.6,-17.8],[176.1,-14.0],[160,-20],[180,-25],[140,-25],[185,-5]];

const hf22 = [[-186.7,193.0],[-149.3,193.0],[-200.5,171.3],[-181.3,178.3],[-165.3,180.0],[-154.7,158.3],[-162.1,153.9],[-192.0,149.6],[-165.3,117.4],[-162.1,75.7],[-165.3,58.3],[-144.0,36.5],[-176.0,134.8]];
const ht22 = [[-194.1,129.6],[-192.0,106.1],[-194.1,84.3],[-176.0,62.6],[-176.0,45.2],[-165.3,23.5],[-208.0,-7.0],[-165.3,-15.7],[-144.0,-41.7],[-181.3,-46.1],[-138.7,-67.8],[-186.7,-59.1],[-133.3,-85.2],[-218.7,-85.2],[-186.7,-98.3],[-160.0,-107.0],[-224.0,-124.3],[-197.3,-128.7],[-176.0,-120.0],[-202.7,-150.4],[-128.0,-146.1],[-208.0,-107.0],[-195,-110],[-185,-125],[-205,-120],[-175,-135],[-190,-140]];
const lf22 = [[133.3,45.2],[183.5,53.9],[154.7,49.6],[128.0,19.1],[189.9,14.8],[160.0,-0.9],[122.7,-11.3],[138.7,-33.0],[170.7,23.5],[208.0,19.1],[145,35],[170,40],[150,25],[175,5],[140,0],[195,-10],[155,-20],[130,-25]];
const lt22 = [[197.3,-33.0],[218.7,-7.0],[176.0,-20.0],[185,-30],[205,-20],[160,-30],[210,0]];

const hf23 = [[162.2,206.6],[192.2,201.9],[156.2,183.1],[192.2,185.0],[174.2,169.0],[210.2,173.7],[204.2,150.2],[174.2,150.2],[222.2,134.3],[198.2,117.4],[192.2,70.4],[174.2,34.7],[198.2,56.3],[150.2,178.4]];
const ht23 = [[222.2,108.0],[222.2,84.5],[216.2,65.7],[210.2,42.3],[192.2,18.8],[234.2,-9.4],[192.2,-18.8],[174.2,-51.6],[204.2,-42.3],[216.2,-61.0],[156.2,-70.4],[162.2,-93.9],[216.2,-98.6],[252.3,-98.6],[198.2,-108.0],[174.2,-122.1],[210.2,-126.8],[240.2,-122.1],[192.2,-140.8],[228.2,-145.5],[150.2,-161.5],[222.2,-164.3],[252.3,-126.8],[200,-110],[215,-115],[190,-125],[230,-110],[205,-135]];
const lf23 = [[-222.2,46.9],[-183.8,46.9],[-234.2,23.5],[-210.2,9.4],[-180.2,-4.7],[-240.2,-18.8],[-198.2,-28.2],[-150.2,-14.1],[-174.2,23.5],[-240.2,9.4],[-162.2,-32.9],[-200,35],[-215,30],[-190,20],[-225,-5],[-205,-10],[-185,-20],[-170,5],[-220,-30]];
const lt23 = [[-222.2,-37.6],[-246.2,-6.6],[-162.2,0],[-198.2,-9.4],[-210,-30],[-235,-25],[-185,-35],[-175,-15]];

// per-layer series, in drawing order
const honestFalse = [hf0,hf1,hf2,hf3,hf4,hf5,hf6,hf7,hf8,hf9,hf10,hf11,hf12,hf13,hf14,hf15,hf16,hf17,hf18,hf19,hf20,hf21,hf22,hf23];
const honestTrue  = [ht0,ht1,ht2,ht3,ht4,ht5,ht6,ht7,ht8,ht9,ht10,ht11,ht12,ht13,ht14,ht15,ht16,ht17,ht18,ht19,ht20,ht21,ht22,ht23];
const lyingFalse  = [lf0,lf1,lf2,lf3,lf4,lf5,lf6,lf7,lf8,lf9,lf10,lf11,lf12,lf13,lf14,lf15,lf16,lf17,lf18,lf19,lf20,lf21,lf22,lf23];
const lyingTrue   = [lt0,lt1,lt2,lt3,lt4,lt5,lt6,lt7,lt8,lt9,lt10,lt11,lt12,lt13,lt14,lt15,lt16,lt17,lt18,lt19,lt20,lt21,lt22,lt23];

const seriesNames = ["honest_false", "honest_true", "lying_false", "lying_true"];

// axis ranges and ticks for each layer
const xDomains = [
  [-1.96,2.26],[-2.93,3.78],[-3.83,4.47],[-6.44,6.52],
  [-6.4,6.63],[-7.39,7.6],[-7.61,7.77],[-8.26,8.7],
  [-10.82,11.68],[-14.3,15.7],[-24.7,28.1],[-36.2,40.3],
  [-47,49.5],[-72.5,74],[-83.3,85.5],[-105.8,115.1],
  [-122,125],[-118.5,136.6],[-127,148],[-146,165],
  [-209,203],[-224,230.6],[-263,262],[-290,303]
];
const yDomains = [
  [-2.27,2.97],[-3.38,3.75],[-4.03,4.12],[-5.17,6.44],
  [-4.65,5.05],[-4.04,4.68],[-4.12,4.36],[-5.84,5.91],
  [-7.2,8.8],[-9.71,11.04],[-11.65,11.75],[-17.2,18.5],
  [-16.25,19.86],[-50.2,64.6],[-51.2,88.4],[-73.7,107.1],
  [-106.5,133.5],[-100.5,121.9],[-125.5,144.7],[-127,147],
  [-146.5,174.7],[-169,200.7],[-184.3,230.5],[-200.5,247]
];
const xTicks = [
  [-1,0,1,2],[-2,0,2],[-2,0,2,4],[-5,0,5],
  [-5,0,5],[-5,0,5],[-5,0,5],[-5,0,5],
  [-10,-5,0,5,10],[-10,0,10],[-20,0,20],[-20,0,20,40],
  [-40,-20,0,20,40],[-50,0,50],[-50,0,50],[-100,-50,0,50,100],
  [-100,0,100],[-100,0,100],[-100,0,100],[-100,0,100],
  [-100,0,100],[-200,-100,0,100,200],[-200,0,200],[-200,0,200]
];
const yTicks = [
  [-2,0,2],[-2,0,2],[-4,-2,0,2,4],[-5,0,5],
  [-4,-2,0,2,4],[-4,-2,0,2,4],[-4,-2,0,2,4],[-5,0,5],
  [-5,0,5],[-5,0,5,10],[-10,-5,0,5,10],[-10,0,10],
  [-10,0,10],[-50,0,50],[0,50],[-50,0,50,100],
  [-100,-50,0,50,100],[-100,-50,0,50,100],[-100,0,100],[-100,0,100],
  [-100,0,100],[-100,0,100],[-100,0,100,200],[-200,-100,0,100,200]
];
// layers whose x tick labels are set at an angle
const angledX = [12, 15, 21];

// ---- layout & styling ----
const colLeft = [49, 253, 457, 661];
const rowTop0 = 31, rowStep = 298.6;
const pw = 165, ph = 159;
const textColor = "#2a3f5f";
const bgColor = "#E5ECF6";
const gold = "#FFD700", blue = "#1E90FF", edge = "#2F4F4F";
const seriesStyle = [
  { fill: gold, shape: "circle" },
  { fill: gold, shape: "star" },
  { fill: blue, shape: "circle" },
  { fill: blue, shape: "star" }
];
const fmt = d3.format("d");

const svg = d3.select("#chart");
svg.append("rect").attr("width", 989).attr("height", 1717).attr("fill", "#fff");

const starPath = d3.symbol(d3.symbolStar, 52)();
const legendStar = d3.symbol(d3.symbolStar, 26)();

for (let i = 0; i < 24; i++) {
  const col = i % 4, row = Math.floor(i / 4);
  const left = colLeft[col];
  const top = rowTop0 + row * rowStep;
  const x = d3.scaleLinear().domain(xDomains[i]).range([left, left + pw]);
  const y = d3.scaleLinear().domain(yDomains[i]).range([top + ph, top]);

  const g = svg.append("g").attr("class", "panel");
  g.append("rect").attr("x", left).attr("y", top).attr("width", pw).attr("height", ph).attr("fill", bgColor);

  // grid lines; the zero line is drawn heavier
  const xt = xTicks[i].filter(v => v >= xDomains[i][0] && v <= xDomains[i][1]);
  const yt = yTicks[i].filter(v => v >= yDomains[i][0] && v <= yDomains[i][1]);
  g.selectAll("line.gx").data(xt).join("line")
    .attr("x1", d => x(d)).attr("x2", d => x(d))
    .attr("y1", top).attr("y2", top + ph)
    .attr("stroke", "#fff").attr("stroke-width", d => d === 0 ? 2.4 : 1.2);
  g.selectAll("line.gy").data(yt).join("line")
    .attr("y1", d => y(d)).attr("y2", d => y(d))
    .attr("x1", left).attr("x2", left + pw)
    .attr("stroke", "#fff").attr("stroke-width", d => d === 0 ? 2.4 : 1.2);

  // markers
  const clipId = "clip" + i;
  g.append("clipPath").attr("id", clipId).append("rect")
    .attr("x", left).attr("y", top).attr("width", pw).attr("height", ph);
  const pts = g.append("g").attr("clip-path", `url(#${clipId})`);
  const layerSeries = [honestFalse[i], honestTrue[i], lyingFalse[i], lyingTrue[i]];
  layerSeries.forEach((data, s) => {
    const st = seriesStyle[s];
    if (st.shape === "circle") {
      pts.selectAll(null).data(data).join("circle")
        .attr("cx", d => x(d[0])).attr("cy", d => y(d[1])).attr("r", 5.3)
        .attr("fill", st.fill).attr("stroke", edge).attr("stroke-width", 1);
    } else {
      pts.selectAll(null).data(data).join("path")
        .attr("d", starPath)
        .attr("transform", d => `translate(${x(d[0])},${y(d[1])})`)
        .attr("fill", st.fill).attr("stroke", edge).attr("stroke-width", 1);
    }
  });

  // tick labels
  g.selectAll("text.yl").data(yt).join("text").attr("class", "sans")
    .attr("x", left - 2.5).attr("y", d => y(d)).attr("dy", "0.36em")
    .attr("text-anchor", "end").attr("font-size", 14.5).attr("fill", textColor)
    .text(d => fmt(d));
  if (angledX.includes(i)) {
    g.selectAll("text.xl").data(xt).join("text").attr("class", "sans")
      .attr("transform", d => `translate(${x(d) + 1},${top + ph + 6}) rotate(30)`)
      .attr("dy", "0.8em").attr("text-anchor", "start")
      .attr("font-size", 14.5).attr("fill", textColor)
      .text(d => fmt(d));
  } else {
    g.selectAll("text.xl").data(xt).join("text").attr("class", "sans")
      .attr("x", d => x(d)).attr("y", top + ph + 17)
      .attr("text-anchor", "middle").attr("font-size", 14.5).attr("fill", textColor)
      .text(d => fmt(d));
  }

  // panel title
  g.append("text").attr("class", "sans").attr("x", left + pw / 2).attr("y", top - 6.5)
    .attr("text-anchor", "middle").attr("font-size", 19.4).attr("fill", textColor)
    .text("layer " + i);
}

// legend
const lg = svg.append("g").attr("class", "legend");
seriesNames.forEach((name, s) => {
  const cy = 50 + s * 23.4;
  const st = seriesStyle[s];
  if (st.shape === "circle") {
    lg.append("circle").attr("cx", 866).attr("cy", cy).attr("r", 3.7)
      .attr("fill", st.fill).attr("stroke", edge).attr("stroke-width", 1);
  } else {
    lg.append("path").attr("d", legendStar).attr("transform", `translate(866,${cy})`)
      .attr("fill", st.fill).attr("stroke", edge).attr("stroke-width", 1);
  }
  lg.append("text").attr("class", "sans").attr("x", 892).attr("y", cy).attr("dy", "0.36em")
    .attr("font-size", 14.5).attr("fill", textColor).text(name);
});

// page number
svg.append("text").attr("x", 465).attr("y", 1717)
  .style("font-family", "'Liberation Serif', 'Times New Roman', serif")
  .style("font-size", "28px")
  .attr("fill", "#000").text("43");
</script>
</body>
</html>
